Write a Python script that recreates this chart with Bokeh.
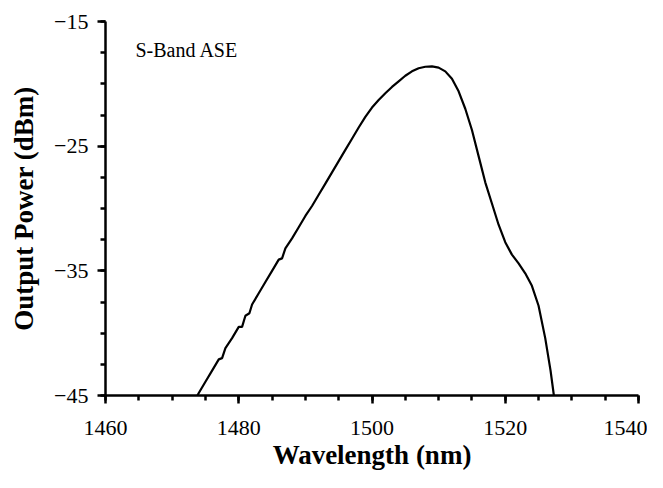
from bokeh.plotting import figure
from bokeh.models import Range1d, FixedTicker, Label
from bokeh.embed import file_html
from bokeh.resources import INLINE

# ---- data ----
wavelength_nm = [
    1473.8, 1474.0, 1475.0, 1476.0, 1477.0, 1477.5, 1478.0, 1479.0, 1480.0,
    1480.5, 1481.0, 1481.6, 1482.0, 1483.0, 1484.0, 1485.0, 1486.0, 1486.5,
    1487.0, 1488.0, 1489.0, 1490.0, 1491.0, 1492.0, 1493.0, 1494.0, 1495.0,
    1496.0, 1497.0, 1498.0, 1499.0, 1500.0, 1501.0, 1502.0, 1503.0, 1504.0,
    1505.0, 1506.0, 1507.0, 1508.0, 1509.0, 1510.0, 1511.0, 1512.0, 1513.0,
    1514.0, 1515.0, 1516.0, 1517.0, 1518.0, 1519.0, 1520.0, 1521.0, 1522.0,
    1523.0, 1524.0, 1525.0, 1526.0, 1526.8, 1527.3,
]
power_dbm = [
    -45.0, -44.8, -43.9, -43.0, -42.1, -42.0, -41.2, -40.4, -39.5,
    -39.5, -38.6, -38.4, -37.7, -36.8, -35.9, -35.0, -34.1, -34.0,
    -33.2, -32.4, -31.5, -30.6, -29.8, -28.9, -28.0, -27.1, -26.2,
    -25.3, -24.4, -23.5, -22.65, -21.9, -21.3, -20.75, -20.25, -19.8,
    -19.35, -19.0, -18.75, -18.63, -18.6, -18.7, -19.0, -19.6, -20.6,
    -22.0, -23.7, -25.8, -27.9, -29.6, -31.3, -32.7, -33.7, -34.4,
    -35.2, -36.2, -37.8, -40.4, -43.0, -45.0,
]

x_major_ticks = [1460, 1480, 1500, 1520, 1540]
x_minor_ticks = [1460 + 5 * i for i in range(17)]
y_major_ticks = [-45, -35, -25, -15]
y_minor_ticks = [-45 + 2.5 * i for i in range(13)]

x_title = "Wavelength (nm)"
y_title = "Output Power (dBm)"
note = "S-Band ASE"

SERIF = "Liberation Serif"

p = figure(
    width=647, height=472,
    x_range=Range1d(1460, 1540), y_range=Range1d(-45, -15),
    output_backend="svg", toolbar_location=None,
    min_border_left=105, min_border_right=9,
    min_border_top=21, min_border_bottom=76,
)
p.outline_line_color = None
p.xgrid.visible = False
p.ygrid.visible = False
p.background_fill_color = "white"
p.border_fill_color = "white"

p.line(wavelength_nm, power_dbm, line_color="black", line_width=2.2)

for ax in (p.xaxis[0], p.yaxis[0]):
    ax.axis_line_width = 2.5
    ax.axis_line_color = "black"
    ax.major_tick_line_width = 2.5
    ax.minor_tick_line_width = 2.5
    ax.major_tick_line_color = "black"
    ax.minor_tick_line_color = "black"
    ax.major_tick_in = 0
    ax.major_tick_out = 8
    ax.minor_tick_in = 0
    ax.minor_tick_out = 5
    ax.major_label_text_font = SERIF
    ax.major_label_text_font_size = "22px"
    ax.major_label_text_color = "black"
    ax.axis_label_text_font = SERIF
    ax.axis_label_text_font_style = "bold"
    ax.axis_label_text_font_size = "27px"
    ax.axis_label_text_color = "black"

p.xaxis[0].ticker = FixedTicker(ticks=x_major_ticks, minor_ticks=x_minor_ticks)
p.yaxis[0].ticker = FixedTicker(ticks=y_major_ticks, minor_ticks=y_minor_ticks)
p.xaxis[0].axis_label = x_title
p.yaxis[0].axis_label = y_title
p.xaxis[0].major_label_standoff = 17
p.xaxis[0].axis_label_standoff = 2
p.yaxis[0].major_label_standoff = 9
p.yaxis[0].axis_label_standoff = 12

p.add_layout(Label(x=1464.5, y=-17.26, text=note,
                   text_font=SERIF, text_font_size="20px",
                   text_color="black", text_baseline="alphabetic"))

open("out.html", "w").write(file_html(p, INLINE))
